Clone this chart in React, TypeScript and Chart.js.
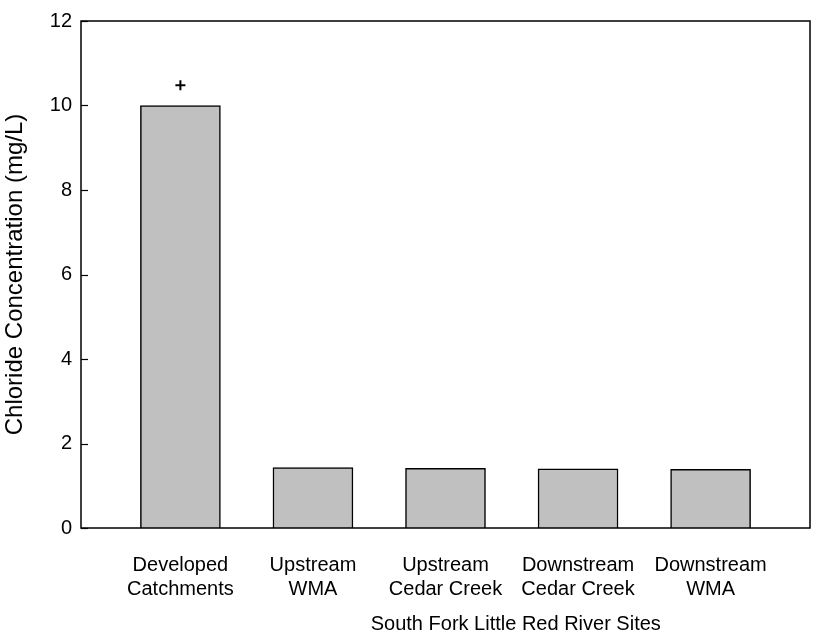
import React, { useEffect, useRef } from "react";
import { Chart, registerables } from "chart.js";

Chart.register(...registerables);

// ---- Data ----
const categoryLabels: string[][] = [
  ["Developed", "Catchments"],
  ["Upstream", "WMA"],
  ["Upstream", "Cedar Creek"],
  ["Downstream", "Cedar Creek"],
  ["Downstream", "WMA"],
];
const sitePositions = [1, 2, 3, 4, 5];
const chlorideValues = [10, 1.43, 1.41, 1.4, 1.39];
// "+" marker drawn above the first bar
const markerPositions = [1];
const markerValues = [10.48];
const yTickValues = [0, 2, 4, 6, 8, 10, 12];
const xAxisTitle = "South Fork Little Red River Sites";
const yAxisTitle = "Chloride Concentration (mg/L)";

const FONT = '"Liberation Sans", Arial, Helvetica, sans-serif';

export default function App() {
  const canvasRef = useRef<HTMLCanvasElement>(null);

  useEffect(() => {
    document.body.style.margin = "0";
    const canvas = canvasRef.current;
    if (!canvas) return;

    const framePlugin = {
      id: "frameAndTitle",
      afterDraw(chart: any) {
        const { ctx, chartArea } = chart;
        const { left, right, top, bottom } = chartArea;
        const yScale = chart.scales.y;
        const xScale = chart.scales.x;
        ctx.save();
        ctx.strokeStyle = "#000";
        ctx.lineWidth = 1.5;
        ctx.strokeRect(left, top, right - left, bottom - top);
        // inward tick marks on y axis
        ctx.lineWidth = 1.2;
        for (const v of yTickValues) {
          const y = Math.round(yScale.getPixelForValue(v)) + 0.5;
          ctx.beginPath();
          ctx.moveTo(left, y);
          ctx.lineTo(left + 7, y);
          ctx.stroke();
        }
        // x-axis title
        ctx.fillStyle = "#000";
        ctx.font = `20px ${FONT}`;
        ctx.textAlign = "center";
        ctx.textBaseline = "alphabetic";
        ctx.fillText(xAxisTitle, xScale.getPixelForValue(3.5) + 4, 630);
        ctx.restore();
      },
    };

    const chart = new Chart(canvas, {
      type: "bar",
      data: {
        datasets: [
          {
            type: "bar",
            data: sitePositions.map((x, i) => ({ x, y: chlorideValues[i] })),
            backgroundColor: "#c0c0c0",
            borderColor: "#000",
            borderWidth: 1.5,
            barThickness: 80,
          } as any,
          {
            type: "scatter",
            data: markerPositions.map((x, i) => ({ x, y: markerValues[i] })),
            pointStyle: "cross",
            radius: 5,
            borderColor: "#000",
            borderWidth: 2,
          } as any,
        ],
      },
      options: {
        responsive: false,
        animation: false,
        layout: { padding: { top: 15, right: 1, bottom: 0, left: 0 } },
        plugins: {
          legend: { display: false },
          tooltip: { enabled: false },
        },
        scales: {
          x: {
            type: "linear",
            offset: false,
            min: 0.25,
            max: 5.75,
            afterBuildTicks: (scale: any) => {
              scale.ticks = sitePositions.map((v) => ({ value: v }));
            },
            afterFit: (scale: any) => {
              scale.height = 107;
            },
            grid: { display: false, drawTicks: false, offset: false },
            border: { display: false },
            ticks: {
              autoSkip: false,
              maxRotation: 0,
              minRotation: 0,
              padding: 25,
              color: "#000",
              font: { family: FONT, size: 20, lineHeight: 1.2 },
              callback: (v: any) => categoryLabels[Math.round(Number(v)) - 1] ?? "",
            },
          },
          y: {
            type: "linear",
            min: 0,
            max: 12,
            afterBuildTicks: (scale: any) => {
              scale.ticks = yTickValues.map((v) => ({ value: v }));
            },
            afterFit: (scale: any) => {
              scale.width = 81;
            },
            grid: { display: false, drawTicks: false },
            border: { display: false },
            ticks: {
              padding: 9,
              color: "#000",
              font: { family: FONT, size: 20 },
            },
            title: {
              display: true,
              text: yAxisTitle,
              color: "#000",
              font: { family: FONT, size: 24, lineHeight: 1.2 },
              padding: { top: 1, bottom: 0 },
            },
          },
        },
      } as any,
      plugins: [framePlugin],
    });

    return () => chart.destroy();
  }, []);

  return (
    <div style={{ width: 817, height: 635 }}>
      <canvas ref={canvasRef} width={817} height={635} style={{ display: "block" }} />
    </div>
  );
}
